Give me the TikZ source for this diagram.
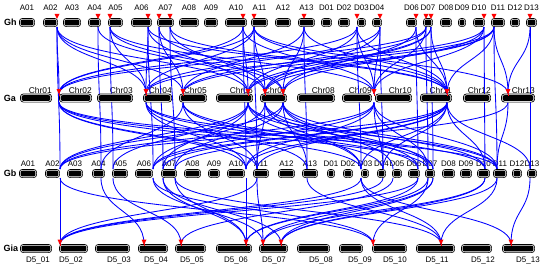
\documentclass[tikz,border=0pt]{standalone}
\usepackage{fontspec}
\setmainfont{Liberation Sans}
\usetikzlibrary{calc}
\definecolor{lnblue}{RGB}{0,0,255}
\definecolor{mkred}{RGB}{255,0,0}
\tikzset{
  link/.style={draw=lnblue, line width=0.85pt},
  barout/.style={draw=black, fill=white, line width=0.7pt, rounded corners=3pt},
  barin/.style={fill=black, rounded corners=2pt},
  lab/.style={font=\fontsize{8}{9}\selectfont, inner sep=0pt},
  chrlab/.style={font=\fontsize{8.4}{9}\selectfont, inner sep=0pt, anchor=base east},
  rowlab/.style={font=\fontsize{9}{10}\selectfont\bfseries, inner sep=0pt},
  redtri/.style={fill=mkred},
  redstem/.style={draw=mkred, line width=0.8pt}
}
\newcommand\syn[2]{\draw[link] (#1) .. controls ($(#1)!.5!(#1|-#2)$) and ($(#2)!.5!(#2|-#1)$) .. (#2);}
% bar: left, right, top
\newcommand\chrbar[3]{%
  \draw[barout] (#1+0.4,#3+0.4) rectangle (#2-0.4,#3+8.6);
  \fill[barin] (#1+1.6,#3+1.6) rectangle (#2-1.6,#3+7.4);}
\begin{document}
\begin{tikzpicture}[x=1pt,y=-1pt]
\useasboundingbox (0,0) rectangle (550,269);
% row labels
\node[rowlab] (rGh) at (10.3,22.5) {Gh};
\node[rowlab] (rGa) at (9.8,98) {Ga};
\node[rowlab] (rGb) at (10.2,173.5) {Gb};
\node[rowlab] (rGia) at (10.8,248.5) {Gia};
% chromosome labels
\foreach \n/\xa/\xb in {A01/19/35,A02/43/58,A03/63/81,A04/88/101,A05/108/123,A06/131/152,A07/157/174,A08/179/199,A09/204/218,A10/225/247,A11/251/268,A12/275/291,A13/298/315,D01/321/332,D02/338/350,D03/357/366,D04/372/382,D06/406/417,D07/423/433,D08/440/452,D09/458/466,D10/473/485,D11/491/505,D12/510/520,D13/526/537}
  {\node[lab] (tgh\n) at ({(\xa+\xb)/2},7.5) {\n};}
\foreach \n/\xa/\xb in {A01/19/37,A02/45/60,A03/67/83,A04/92/105,A05/112/128,A06/135/153,A07/161/177,A08/184/201,A09/208/220,A10/227/245,A11/253/269,A12/278/295,A13/302/318,D01/327/335,D02/343/353,D03/361/369,D04/377/386,D05/392/402,D06/408/420,D07/425/435,D08/442/455,D09/460/472,D10/477/490,D11/493/507,D12/512/522,D13/527/537}
  {\node[lab] (tgb\n) at ({(\xa+\xb)/2},163.5) {\n};}
\foreach \n/\xb in {01/52,02/92,03/133,04/172,05/207,06/253,07/287,08/335,09/372,10/412,11/452,12/491,13/535}
  {\node[chrlab] (tga\n) at (\xb,93.4) {Chr\n};}
\foreach \n/\c in {01/38,02/71,03/119,04/156,05/192,06/236,07/274,08/321,09/360,10/395,11/437,12/483,13/528}
  {\node[lab] (tgi\n) at (\c,260.5) {D5\_\n};}
% gene coordinates
\foreach \x in {57,98,110,148,159,170,243,254,304,357,380,416,426,431,484,494,530}
  {\coordinate (h\x) at (\x,27);}
\foreach \x in {59,146,183,248,265,283,374,447,508}{
  \coordinate (a\x) at (\x,93.5);
  \coordinate (aa\x) at (\x,102.5);}
\foreach \x in {60,101,113,153,163,175,246,257,307,361,383,393,418,428,433,485,497,530}{
  \coordinate (b\x) at (\x,169);
  \coordinate (bb\x) at (\x,178);}
\foreach \x in {60,144,181,246,263,281,373,441,511}
  {\coordinate (i\x) at (\x,244);}
% Gh -> Gb
\foreach \s/\t in {h57/b60,h98/b101,h110/b113,h148/b153,h159/b163,h170/b175,h243/b246,h254/b257,h304/b307,h357/b361,h380/b383,h416/b418,h426/b428,h431/b433,h484/b485,h494/b497,h530/b530}
  {\syn{\s}{\t}}
% Gh -> Ga
\foreach \s/\t in {h57/a59,h57/a146,h57/a183,h57/a248,h98/a265,h110/a146,h110/a283,h110/a374,h148/a146,h148/a248,h148/a447,h159/a183,h159/a283,h170/a265,h170/a447,h243/a59,h243/a248,h243/a374,h254/a59,h254/a146,h254/a265,h254/a447,h254/a508,h304/a183,h304/a283,h304/a447,h357/a59,h357/a248,h357/a374,h357/a447,h380/a146,h380/a265,h380/a374,h416/a283,h416/a447,h426/a59,h426/a183,h426/a374,h431/a248,h431/a265,h431/a447,h484/a146,h484/a283,h484/a374,h494/a183,h494/a248,h494/a265,h494/a447,h494/a508,h530/a508}
  {\syn{\s}{\t}}
% Ga -> Gb
\foreach \s/\t in {aa248/b60,aa283/b60,aa374/b60,aa447/b60,aa183/b101,aa248/b113,aa265/b153,aa374/b153,aa447/b153,aa248/b163,aa447/b163,aa283/b175,aa508/b175,aa59/b246,aa146/b246,aa374/b246,aa447/b246,aa59/b257,aa183/b257,aa265/b257,aa447/b257,aa146/b307,aa283/b307,aa59/b361,aa248/b361,aa265/b361,aa447/b361,aa183/b383,aa374/b383,aa447/b383,aa283/b393,aa146/b418,aa265/b418,aa59/b428,aa283/b428,aa374/b428,aa183/b433,aa248/b433,aa146/b485,aa265/b485,aa447/b485,aa59/b497,aa248/b497,aa283/b497,aa374/b497,aa508/b497,aa447/b530}
  {\syn{\s}{\t}}
% Gb -> Gia
\foreach \s/\t in {bb60/i60,bb60/i373,bb101/i144,bb113/i181,bb153/i263,bb153/i373,bb163/i246,bb163/i281,bb175/i246,bb175/i441,bb246/i246,bb257/i60,bb257/i263,bb307/i441,bb361/i60,bb361/i441,bb361/i511,bb383/i60,bb393/i181,bb418/i60,bb418/i246,bb428/i246,bb428/i373,bb433/i263,bb433/i281,bb485/i263,bb485/i281,bb497/i281,bb497/i441,bb530/i511}
  {\syn{\s}{\t}}
% bars
\foreach \xa/\xb in {19/35,43/58,63/81,88/101,108/123,131/152,157/174,179/199,204/218,225/247,251/268,275/291,298/315,321/332,338/350,357/366,372/382,406/417,423/433,440/452,458/466,473/485,491/505,510/520,526/537}
  {\chrbar{\xa}{\xb}{18}}
\foreach \xa/\xb in {20/52,59/92,97/133,143/172,179/207,216/253,260/287,297/335,342/372,375/412,420/452,463/491,501/535}
  {\chrbar{\xa}{\xb}{93.5}}
\foreach \xa/\xb in {19/37,45/60,67/83,92/105,112/128,135/153,161/177,184/201,208/220,227/245,253/269,278/295,302/318,327/335,343/353,361/369,377/386,392/402,408/420,425/435,442/455,460/472,477/490,493/507,512/522,527/537}
  {\chrbar{\xa}{\xb}{169}}
\foreach \xa/\xb in {20/52,59/88,95/130,138/168,175/206,216/252,259/288,297/330,339/363,372/407,416/455,461/492,502/535}
  {\chrbar{\xa}{\xb}{244}}
% red markers
\foreach \x in {57,98,110,148,159,170,243,254,304,357,380,416,426,431,484,494,530}{
  \coordinate (mh\x) at (\x,18.8);
  \fill[redtri] (mh\x) ++(-2.5,-5) -- ++(5,0) -- (mh\x) -- cycle;}
\foreach \x in {59,146,183,248,265,283,374,447,508}{
  \fill[redtri] (a\x) ++(-2.5,-4.5) -- ++(5,0) -- ($(a\x)+(0,1)$) -- cycle;
  \draw[redstem] (a\x) -- ++(0,2);}
\foreach \x in {60,144,181,246,263,281,373,441,511}{
  \fill[redtri] (i\x) ++(-2.5,-4.5) -- ++(5,0) -- ($(i\x)+(0,1)$) -- cycle;
  \draw[redstem] (i\x) -- ++(0,2);}
\end{tikzpicture}
\end{document}
